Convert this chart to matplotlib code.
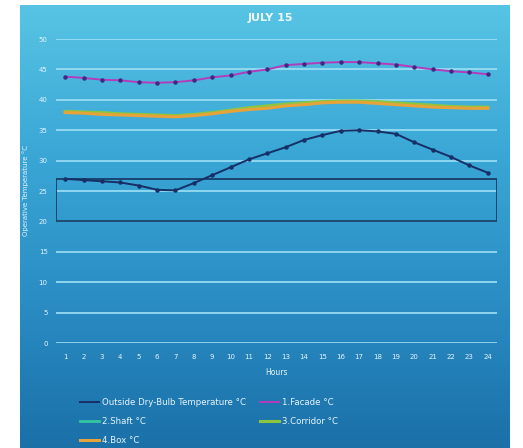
import numpy as np
import matplotlib
matplotlib.use("Agg")
import matplotlib.pyplot as plt
from matplotlib.patches import Rectangle
from matplotlib.colors import LinearSegmentedColormap

hours = list(range(1, 25))
hour_labels = [str(h) for h in hours]

outside = [27.0, 26.8, 26.6, 26.4, 25.9, 25.2, 25.1, 26.3, 27.6, 28.9, 30.2, 31.2,
           32.2, 33.4, 34.2, 34.9, 35.0, 34.8, 34.4, 33.0, 31.8, 30.6, 29.2, 28.0]
facade = [43.8, 43.6, 43.3, 43.2, 42.9, 42.8, 42.9, 43.2, 43.7, 44.0, 44.6, 45.0,
          45.7, 45.9, 46.1, 46.2, 46.2, 46.0, 45.8, 45.4, 45.0, 44.7, 44.5, 44.2]
shaft = [38.0, 37.9, 37.8, 37.6, 37.5, 37.4, 37.3, 37.5, 37.8, 38.2, 38.5, 38.8,
         39.1, 39.3, 39.5, 39.6, 39.6, 39.5, 39.3, 39.1, 38.9, 38.8, 38.7, 38.7]
corridor = [38.1, 38.0, 37.9, 37.7, 37.6, 37.5, 37.4, 37.6, 37.9, 38.3, 38.7, 39.0,
            39.3, 39.5, 39.7, 39.8, 39.8, 39.7, 39.5, 39.3, 39.1, 38.9, 38.8, 38.8]
box = [37.9, 37.8, 37.6, 37.5, 37.4, 37.3, 37.2, 37.4, 37.7, 38.1, 38.4, 38.6,
       39.0, 39.2, 39.5, 39.6, 39.6, 39.4, 39.2, 39.0, 38.8, 38.7, 38.6, 38.6]
comfort_low, comfort_high = 20, 27
y_ticks = list(range(0, 55, 5))

W, H = 523, 448
fig = plt.figure(figsize=(W / 100, H / 100), dpi=100)
fig.patch.set_facecolor("white")

# backdrop panel with vertical blue gradient
bg = fig.add_axes([20 / W, 0, 490 / W, 443 / H])
cmap = LinearSegmentedColormap.from_list(
    "panel", ["#1b70a8", "#2a8dc4", "#3aa7d6", "#58c4e4"])
grad = np.linspace(0, 1, 256).reshape(-1, 1)
bg.imshow(grad, aspect="auto", cmap=cmap, origin="lower", extent=[0, 1, 0, 1])
bg.set_axis_off()

ax = fig.add_axes([56 / W, (H - 343) / H, (497 - 56) / W, (343 - 39) / H])
ax.set_facecolor("none")
ax.set_xlim(0.5, 24.5)
ax.set_ylim(0, 50)

for s in ax.spines.values():
    s.set_visible(False)
ax.set_yticks(y_ticks)
ax.set_xticks(hours)
ax.set_xticklabels(hour_labels)
ax.tick_params(axis="x", length=0, labelsize=5, colors="#e6f4fb", pad=8)
ax.tick_params(axis="y", length=0, labelsize=5, colors="#e6f4fb", pad=6)
ax.yaxis.grid(True, color="#9fe0f5", linewidth=1.4, alpha=0.85)
ax.set_axisbelow(True)

# comfort band
ax.add_patch(Rectangle((0.5, comfort_low), 24, comfort_high - comfort_low,
                       fill=False, edgecolor="#163e6a", linewidth=1.3, zorder=2))

ax.plot(hours, shaft, color="#34c6a0", linewidth=2.0, zorder=3, label="2.Shaft °C")
ax.plot(hours, corridor, color="#8cc63f", linewidth=2.2, zorder=3, label="3.Corridor °C")
ax.plot(hours, box, color="#e8a23a", linewidth=2.2, zorder=4, label="4.Box °C")
ax.plot(hours, facade, color="#b43bbb", linewidth=1.4, marker="o", markersize=2.2,
        markerfacecolor="#3e2a80", markeredgecolor="#3e2a80", zorder=5,
        label="1.Facade °C")
ax.plot(hours, outside, color="#162f66", linewidth=1.4, marker="o", markersize=2.2,
        zorder=5, label="Outside Dry-Bulb Temperature °C")

ax.set_xlabel("Hours", fontsize=5.5, color="#e6f4fb", labelpad=6)
ax.set_ylabel("Operative Temperature °C", fontsize=5, color="#e6f4fb")
ax.yaxis.set_label_coords(-0.062, 0.5)

fig.text(270 / W, 1 - 18 / H, "JULY 15", color="#eef8fc", fontsize=8,
         ha="center", va="center", fontweight="bold")

handles, labels = ax.get_legend_handles_labels()
order = [4, 0, 2, 3, 1]
leg = fig.legend([handles[i] for i in order], [labels[i] for i in order],
                 loc="upper left", bbox_to_anchor=(72 / W, 1 - 390 / H),
                 ncol=2, frameon=False, fontsize=6.2, labelcolor="#e6f4fb",
                 handlelength=2.2, handletextpad=0.4, columnspacing=1.6,
                 labelspacing=1.2)
for line in leg.get_lines():
    line.set_marker("")

fig.savefig("out.png", dpi=100)
